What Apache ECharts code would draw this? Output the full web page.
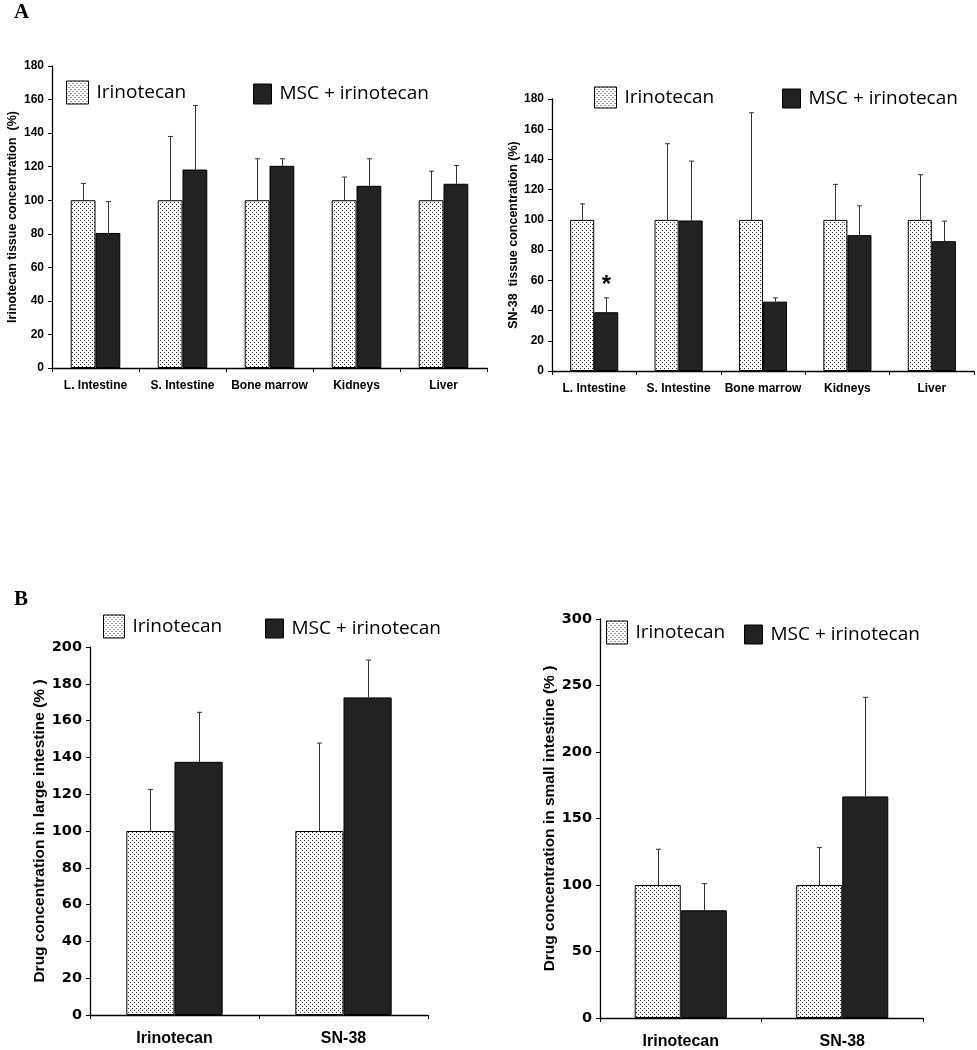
<!DOCTYPE html>
<html>
<head>
<meta charset="utf-8">
<script src="https://cdn.jsdelivr.net/npm/echarts@6/dist/echarts.min.js"></script>
<style>html,body{margin:0;padding:0;background:#fff}#c{width:977px;height:1050px}</style>
</head>
<body>
<div id="c"></div>
<script>
// ---- data ----
const organs = ['L. Intestine', 'S. Intestine', 'Bone marrow', 'Kidneys', 'Liver'];
const drugs = ['Irinotecan', 'SN-38'];
const seriesNames = ['Irinotecan', 'MSC + irinotecan'];

// Panel A left: irinotecan tissue concentration (%)
const aIriMean = [100, 100, 100, 100, 100];
const aIriErr  = [110, 138, 124.7, 113.8, 117.3];
const aMscMean = [80.5, 118.3, 120.5, 108.6, 109.8];
const aMscErr  = [99.2, 156.5, 124.7, 124.7, 120.7];

// Panel A right: SN-38 tissue concentration (%)
const sIriMean = [100, 100, 100, 100, 100];
const sIriErr  = [110.6, 150.4, 170.9, 123.5, 129.9];
const sMscMean = [38.9, 99.6, 45.9, 89.9, 85.9];
const sMscErr  = [48.4, 138.9, 48.4, 109.3, 99.2];
const sMscSig  = ['*', '', '', '', ''];

// Panel B left: large intestine (%)
const lIriMean = [100, 100];
const lIriErr  = [122.6, 147.8];
const lMscMean = [137.6, 172.6];
const lMscErr  = [164.5, 192.9];

// Panel B right: small intestine (%)
const mIriMean = [100, 100];
const mIriErr  = [126.9, 128.1];
const mMscMean = [81, 166.6];
const mMscErr  = [101, 241.1];

const yTicksA = {min: 0, max: 180, interval: 20};
const yTicksL = {min: 0, max: 200, interval: 20};
const yTicksS = {min: 0, max: 300, interval: 50};

// ---- styles ----
const GAP = 0.43;
function dotPattern() {
  const cv = document.createElement('canvas');
  cv.width = 4; cv.height = 4;
  const ctx = cv.getContext('2d');
  ctx.fillStyle = '#fff'; ctx.fillRect(0, 0, 4, 4);
  ctx.fillStyle = '#333';
  ctx.fillRect(0, 0, 1, 1);
  ctx.fillRect(2, 2, 1, 1);
  return {image: cv, repeat: 'repeat'};
}
const pat = dotPattern();
const iriStyle = {color: pat, borderColor: '#000', borderWidth: 1};
const mscStyle = {color: '#222', borderColor: '#000', borderWidth: 1};

const grids = [
  {left: 52, top: 66, width: 435, height: 302},
  {left: 552, top: 99, width: 422, height: 272},
  {left: 90, top: 647, width: 338, height: 368},
  {left: 600, top: 619, width: 323, height: 403}
];

function xAxis(gi, cats, fs, margin) {
  return {
    type: 'category', gridIndex: gi, data: cats,
    axisLine: {lineStyle: {color: '#000', width: 1.3}},
    axisTick: {show: true, length: 4, lineStyle: {color: '#000'}},
    axisLabel: {color: '#000', fontFamily: 'Liberation Sans, Arial', fontWeight: 'bold', fontSize: fs, margin: margin, interval: 0}
  };
}
function yAxis(gi, t, fs, fam, name, nameFs, nameGap) {
  return {
    type: 'value', gridIndex: gi, min: t.min, max: t.max, interval: t.interval,
    name: name, nameLocation: 'middle', nameGap: nameGap,
    nameTextStyle: {color: '#000', fontFamily: 'Liberation Sans, Arial', fontWeight: 'bold', fontSize: nameFs},
    axisLine: {show: true, lineStyle: {color: '#000', width: 1.3}},
    axisTick: {show: true, length: 4, lineStyle: {color: '#000'}},
    axisLabel: {color: '#000', fontFamily: fam, fontWeight: 'bold', fontSize: fs, margin: 8},
    splitLine: {show: false}
  };
}

function bars(gi, iri, msc) {
  return [
    {name: seriesNames[0], type: 'bar', xAxisIndex: gi, yAxisIndex: gi, data: iri, barGap: '0%', barCategoryGap: (GAP * 100) + '%', itemStyle: iriStyle, z: 2},
    {name: seriesNames[1], type: 'bar', xAxisIndex: gi, yAxisIndex: gi, data: msc, barGap: '0%', barCategoryGap: (GAP * 100) + '%', itemStyle: mscStyle, z: 2}
  ];
}

function errSeries(gi, mean, err, side, sig) {
  const data = mean.map((m, i) => [i, m, err[i], (sig && sig[i]) || '']);
  return {
    type: 'custom', xAxisIndex: gi, yAxisIndex: gi, z: 5, silent: true,
    data: data,
    renderItem: function (params, api) {
      const catW = api.size([1, 0])[0];
      const barW = catW * (1 - GAP) / 2;
      const base = api.coord([api.value(0), api.value(1)]);
      const top = api.coord([api.value(0), api.value(2)]);
      const x = Math.round(base[0] + side * barW / 2) + 0.5;
      const st = {stroke: '#333', lineWidth: 1};
      const children = [
        {type: 'line', shape: {x1: x, y1: base[1], x2: x, y2: top[1]}, style: st},
        {type: 'line', shape: {x1: x - 2.5, y1: top[1], x2: x + 2.5, y2: top[1]}, style: st}
      ];
      const s = data[params.dataIndex][3];
      if (s) {
        children.push({type: 'text', x: x, y: top[1] - 12, style: {text: s, fill: '#000', font: 'bold 24px Liberation Sans, Arial', textAlign: 'center', textVerticalAlign: 'middle'}});
      }
      return {type: 'group', children: children};
    }
  };
}

function legend(name, style, left, top, w, h) {
  return {
    left: left, top: top, itemWidth: w, itemHeight: h, selectedMode: false, padding: 0,
    icon: 'rect',
    data: [{name: name, icon: 'rect', itemStyle: style}],
    textStyle: {fontFamily: 'Open Sans', fontSize: 19, color: '#000', lineHeight: h, padding: [2, 0, 0, 3]}
  };
}

const option = {
  backgroundColor: '#fff',
  animation: false,
  grid: grids,
  xAxis: [xAxis(0, organs, 12, 12), xAxis(1, organs, 12, 12), xAxis(2, drugs, 16, 16), xAxis(3, drugs, 16, 16)],
  yAxis: [
    yAxis(0, yTicksA, 12, 'Liberation Sans, Arial', 'Irinotecan tissue concentration  (%)', 12.5, 33),
    yAxis(1, yTicksA, 12, 'Liberation Sans, Arial', 'SN-38  tissue concentration (%)', 12.5, 32),
    yAxis(2, yTicksL, 14.5, 'DejaVu Sans', 'Drug concentration in large intestine (% )', 15.5, 42),
    yAxis(3, yTicksS, 14.5, 'DejaVu Sans', 'Drug concentration in small intestine (% )', 15.5, 40)
  ],
  legend: [
    legend(seriesNames[0], iriStyle, 66, 80, 22, 23),
    legend(seriesNames[1], mscStyle, 253, 83, 18, 20),
    legend(seriesNames[0], iriStyle, 594, 86, 22, 21),
    legend(seriesNames[1], mscStyle, 782, 88, 18, 19),
    legend(seriesNames[0], iriStyle, 103, 614, 21, 23),
    legend(seriesNames[1], mscStyle, 265, 618, 18, 19),
    legend(seriesNames[0], iriStyle, 606, 620, 21, 23),
    legend(seriesNames[1], mscStyle, 744, 624, 18, 19)
  ],
  title: [
    {text: 'A', left: 14, top: 2, textStyle: {fontFamily: 'Liberation Serif, Times New Roman', fontWeight: 'bold', fontSize: 21, color: '#000'}, padding: 0},
    {text: 'B', left: 14, top: 589, textStyle: {fontFamily: 'Liberation Serif, Times New Roman', fontWeight: 'bold', fontSize: 21, color: '#000'}, padding: 0}
  ],
  series: [].concat(
    bars(0, aIriMean, aMscMean),
    [errSeries(0, aIriMean, aIriErr, -1), errSeries(0, aMscMean, aMscErr, 1)],
    bars(1, sIriMean, sMscMean),
    [errSeries(1, sIriMean, sIriErr, -1), errSeries(1, sMscMean, sMscErr, 1, sMscSig)],
    bars(2, lIriMean, lMscMean),
    [errSeries(2, lIriMean, lIriErr, -1), errSeries(2, lMscMean, lMscErr, 1)],
    bars(3, mIriMean, mMscMean),
    [errSeries(3, mIriMean, mIriErr, -1), errSeries(3, mMscMean, mMscErr, 1)]
  )
};

const chart = echarts.init(document.getElementById('c'), null, {renderer: 'canvas'});
chart.setOption(option);
</script>
</body>
</html>
